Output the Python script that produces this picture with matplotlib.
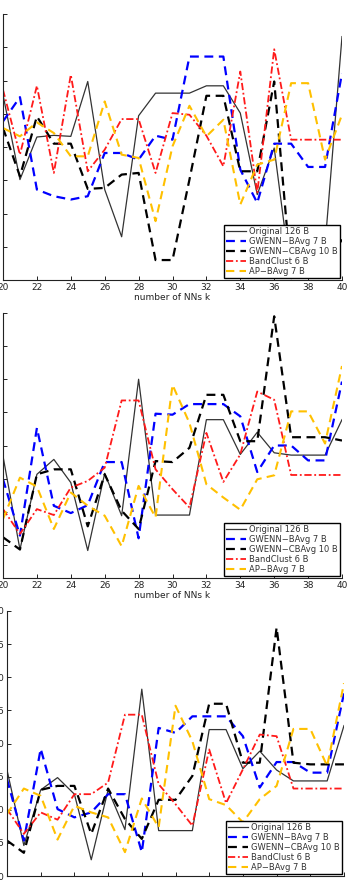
import matplotlib
matplotlib.use("Agg")
import matplotlib.pyplot as plt
import numpy as np
from matplotlib.ticker import FormatStrFormatter, MultipleLocator

k = list(range(20, 41))
labels = ["Original 126 B", "GWENN\u2212BAvg 7 B", "GWENN\u2212CBAvg 10 B", "BandClust 6 B", "AP\u2212BAvg 7 B"]

# Panel 1
p1_orig = [0.62785, 0.6151, 0.6215, 0.62175, 0.6216, 0.62985, 0.6136, 0.6065, 0.6247, 0.6281, 0.6281,
           0.6281, 0.6292, 0.6292, 0.6251, 0.61285, 0.61985, 0.6002, 0.6021, 0.6052, 0.6366]
p1_gb = [0.62385, 0.6275, 0.6136, 0.6126, 0.6121, 0.6126, 0.6191, 0.6191, 0.6181, 0.6217, 0.6211,
         0.6336, 0.6336, 0.6336, 0.6166, 0.6116, 0.6205, 0.6205, 0.6170, 0.6170, 0.6311]
p1_gcb = [0.62285, 0.6156, 0.6246, 0.6205, 0.6205, 0.6137, 0.61385, 0.61585, 0.6161, 0.6030, 0.6030,
          0.6151, 0.6277, 0.6277, 0.61635, 0.61635, 0.62985, 0.6006, 0.6006, 0.6021, 0.6061]
p1_bc = [0.6286, 0.61885, 0.6292, 0.6161, 0.63085, 0.61635, 0.6196, 0.6242, 0.6242, 0.6161, 0.6251,
         0.62485, 0.6217, 0.6171, 0.63135, 0.6131, 0.6347, 0.6211, 0.6211, 0.6211, 0.6211]
p1_ap = [0.62285, 0.6216, 0.6237, 0.6221, 0.6186, 0.6186, 0.62685, 0.61885, 0.61835, 0.60885, 0.6201,
         0.6262, 0.6216, 0.6241, 0.61135, 0.61735, 0.6181, 0.6296, 0.6296, 0.6181, 0.62485]

# Panel 2
p2_orig = [0.6234, 0.6093, 0.62065, 0.6229, 0.6194, 0.60915, 0.6208, 0.6144, 0.635, 0.6145, 0.6145,
           0.6145, 0.6289, 0.6289, 0.62365, 0.627, 0.6239, 0.62355, 0.62355, 0.62355, 0.6289]
p2_gb = [0.6199, 0.6114, 0.62765, 0.6159, 0.6148, 0.616, 0.6225, 0.6225, 0.611, 0.6298, 0.62965,
         0.63125, 0.63125, 0.63125, 0.6294, 0.621, 0.625, 0.625, 0.62275, 0.62275, 0.63465]
p2_gcb = [0.61115, 0.6093, 0.62065, 0.6214, 0.6214, 0.6128, 0.62065, 0.61515, 0.6124, 0.62265, 0.6225,
          0.62465, 0.63265, 0.63265, 0.62565, 0.62565, 0.6445, 0.62625, 0.62625, 0.62625, 0.62575]
p2_bc = [0.6154, 0.61165, 0.6154, 0.6145, 0.61865, 0.61965, 0.62165, 0.6318, 0.6318, 0.6214, 0.6184,
         0.61565, 0.6269, 0.6195, 0.62365, 0.63315, 0.6319, 0.62055, 0.62055, 0.62055, 0.62055]
p2_ap = [0.6139, 0.62015, 0.6188, 0.6124, 0.6179, 0.6159, 0.6144, 0.6098, 0.6189, 0.61415, 0.63415,
         0.6284, 0.61915, 0.61715, 0.6153, 0.6199, 0.6205, 0.63015, 0.63015, 0.6253, 0.637]

# Panel 3
p3_orig = [0.646, 0.6346, 0.643, 0.64485, 0.64235, 0.63245, 0.643, 0.637, 0.6582, 0.63685, 0.63685,
           0.63685, 0.6521, 0.6521, 0.6462, 0.64885, 0.646, 0.64435, 0.64435, 0.64435, 0.6527]
p3_gb = [0.6446, 0.63535, 0.6492, 0.6401, 0.63885, 0.6396, 0.64235, 0.64235, 0.6336, 0.65235, 0.6516,
         0.6541, 0.6541, 0.6541, 0.6511, 0.64335, 0.6472, 0.6472, 0.6456, 0.6456, 0.6576]
p3_gcb = [0.63535, 0.6335, 0.643, 0.6436, 0.6436, 0.63635, 0.6432, 0.6386, 0.6356, 0.6415, 0.6415,
          0.6451, 0.656, 0.656, 0.6471, 0.6471, 0.6675, 0.6471, 0.64685, 0.64685, 0.64685]
p3_bc = [0.6401, 0.63635, 0.6396, 0.6385, 0.64235, 0.64235, 0.6441, 0.65435, 0.65435, 0.64385, 0.64085,
         0.6376, 0.6491, 0.641, 0.6461, 0.65135, 0.6511, 0.6432, 0.6432, 0.6432, 0.6432]
p3_ap = [0.63935, 0.6432, 0.6421, 0.6355, 0.6406, 0.6396, 0.63885, 0.6336, 0.6417, 0.63735, 0.6557,
         0.65035, 0.6416, 0.6407, 0.6381, 0.6416, 0.6436, 0.6522, 0.6522, 0.6466, 0.6591]

panels = [
    dict(series=[p1_orig, p1_gb, p1_gcb, p1_bc, p1_ap], ylim=(0.600, 0.640), xpad=2),
    dict(series=[p2_orig, p2_gb, p2_gcb, p2_bc, p2_ap], ylim=(0.605, 0.645), xpad=2),
    dict(series=[p3_orig, p3_gb, p3_gcb, p3_bc, p3_ap], ylim=(0.630, 0.670), xpad=7),
]

W, H = 348, 881
fig = plt.figure(figsize=(W / 100, H / 100), dpi=100)
boxes = [(3, 342, 14, 280), (3, 342, 313, 578), (7, 344, 611, 876)]

styles = [
    dict(color="#333333", lw=0.9, ls="-"),
    dict(color="#0000FF", lw=1.6, ls=(0, (4, 2.5))),
    dict(color="#000000", lw=1.6, ls=(0, (4, 2.5))),
    dict(color="#FF1A1A", lw=1.3, ls=(0, (4, 1.5, 1, 1.5))),
    dict(color="#FFC000", lw=1.5, ls=(0, (4, 2.5))),
]

for p, (x0, x1, yt, yb) in zip(panels, boxes):
    ax = fig.add_axes([x0 / W, 1 - yb / H, (x1 - x0) / W, (yb - yt) / H])
    for s, lab, st in zip(p["series"], labels, styles):
        ax.plot(k, s, label=lab, **st)
    ax.set_xlim(20, 40)
    ax.set_ylim(*p["ylim"])
    ax.xaxis.set_major_locator(MultipleLocator(2))
    ax.yaxis.set_major_locator(MultipleLocator(0.005))
    ax.yaxis.set_major_formatter(FormatStrFormatter("%.3f"))
    ax.tick_params(direction="in", length=3, width=0.7, labelsize=6.5, colors="#222222", pad=2)
    ax.tick_params(axis="x", pad=p["xpad"])
    for side in ("top", "right"):
        ax.spines[side].set_visible(False)
    for side in ("left", "bottom"):
        ax.spines[side].set_linewidth(0.8)
        ax.spines[side].set_color("#222222")
    ax.set_xlabel("number of NNs k", fontsize=6.5, labelpad=1, color="#222222")
    leg = ax.legend(loc="lower right", fontsize=6.0, frameon=True, fancybox=False,
                    edgecolor="black", borderpad=0.25, labelspacing=0.12,
                    handlelength=2.4, handletextpad=0.35, borderaxespad=0.25)
    leg.get_frame().set_linewidth(1.0)
    leg.get_frame().set_alpha(1)
    for t in leg.get_texts():
        t.set_color("#333333")

fig.savefig("out.png", dpi=100)
